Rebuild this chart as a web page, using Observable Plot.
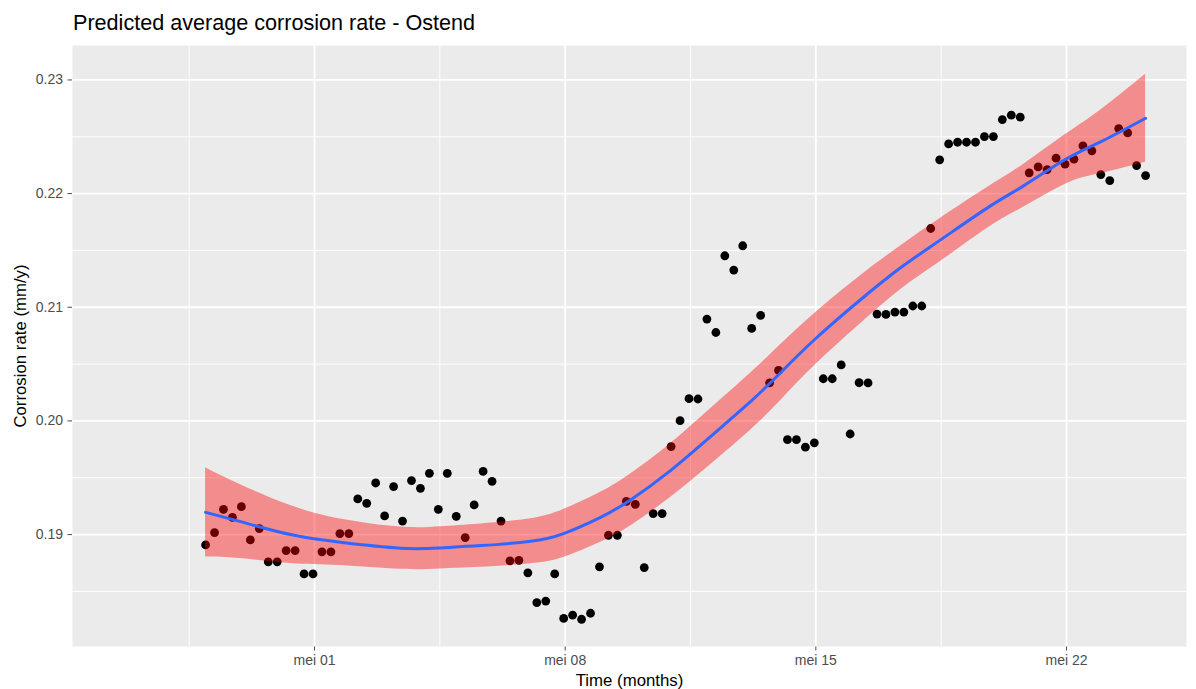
<!DOCTYPE html>
<html>
<head>
<meta charset="utf-8">
<script src="https://cdn.jsdelivr.net/npm/d3@7"></script>
<script src="https://cdn.jsdelivr.net/npm/@observablehq/plot@0.6"></script>
<style>
  html, body { margin: 0; padding: 0; background: white; }
  #title { height: 40px; box-sizing: border-box; padding-top: 12px; padding-left: 73px;
           font-family: "Liberation Sans", Arial, sans-serif; font-size: 21.6px; line-height: 22px; color: black; }
</style>
</head>
<body>
<div id="title">Predicted average corrosion rate - Ostend</div>
<div id="chart"></div>
<script>
// Observations: 6-hourly, starting 27 April 23:00
const obsStart = "2021-04-27T23:00:00Z";
const obsStepHours = 6;
const obsRate = [
  0.18909, 0.19018, 0.19222, 0.19152, 0.19246, 0.18953, 0.19053, 0.18760, 0.18760, 0.18859,
  0.18859, 0.18654, 0.18654, 0.18848, 0.18848, 0.19009, 0.19009, 0.19314, 0.19275, 0.19454,
  0.19164, 0.19422, 0.19119, 0.19475, 0.19407, 0.19539, 0.19222, 0.19539, 0.19161, 0.18974,
  0.19261, 0.19556, 0.19469, 0.19119, 0.18769, 0.18774, 0.18664, 0.18402, 0.18415, 0.18654,
  0.18262, 0.18291, 0.18255, 0.18308, 0.18716, 0.18994, 0.18994, 0.19293, 0.19266, 0.18710,
  0.19185, 0.19185, 0.19774, 0.20002, 0.20196, 0.20193, 0.20896, 0.20778, 0.21453, 0.21327,
  0.21541, 0.20814, 0.20928, 0.20334, 0.20444, 0.19835, 0.19835, 0.19769, 0.19807, 0.20371,
  0.20371, 0.20493, 0.19885, 0.20336, 0.20334, 0.20940, 0.20937, 0.20958, 0.20958, 0.21011,
  0.21011, 0.21693, 0.22297, 0.22437, 0.22452, 0.22452, 0.22452, 0.22502, 0.22502, 0.22651,
  0.22690, 0.22672, 0.22182, 0.22235, 0.22211, 0.22312, 0.22259, 0.22303, 0.22420, 0.22376,
  0.22167, 0.22115, 0.22572, 0.22534, 0.22247, 0.22159
];

// Smoothed fit (loess) with confidence band; positions in days relative to 1 May 00:00
const fitDay = [-3.042, -2.066, -0.670, 0.726, 2.402, 3.519, 4.636, 6.032, 6.953, 7.987, 8.824, 9.941,
  11.058, 12.175, 13.013, 13.990, 15.247, 16.364, 17.481, 18.877, 19.799, 21.000, 21.949, 23.208];
const fitRate = [0.19196, 0.19114, 0.19000, 0.18932, 0.18880, 0.18883, 0.18903, 0.18941, 0.19009, 0.19152,
  0.19305, 0.19563, 0.19862, 0.20169, 0.20424, 0.20723, 0.21066, 0.21347, 0.21593, 0.21892,
  0.22068, 0.22306, 0.22455, 0.22663];
const fitLower = [0.18803, 0.18789, 0.18745, 0.18727, 0.18694, 0.18698, 0.18712, 0.18743, 0.18798, 0.18932,
  0.19076, 0.19326, 0.19615, 0.19919, 0.20178, 0.20494, 0.20855, 0.21154, 0.21402, 0.21712,
  0.21879, 0.22086, 0.22176, 0.22276];
const fitUpper = [0.19589, 0.19439, 0.19255, 0.19137, 0.19066, 0.19069, 0.19094, 0.19139, 0.19220, 0.19372,
  0.19534, 0.19800, 0.20108, 0.20420, 0.20670, 0.20952, 0.21277, 0.21540, 0.21784, 0.22072,
  0.22257, 0.22526, 0.22734, 0.23050];

// Axis ticks
const xMajorTicks = ["2021-05-01", "2021-05-08", "2021-05-15", "2021-05-22"];
const xMinorTicks = ["2021-04-27T12:00:00Z", "2021-05-04T12:00:00Z", "2021-05-11T12:00:00Z", "2021-05-18T12:00:00Z"];
const yMajorTicks = [0.19, 0.20, 0.21, 0.22, 0.23];
const yMinorTicks = [0.185, 0.195, 0.205, 0.215, 0.225];
const monthLabel = "mei";

const refDay = Date.UTC(2021, 4, 1);
const dayMs = 864e5;
const t0 = new Date(obsStart).getTime();
const obs = obsRate.map((v, i) => ({time: new Date(t0 + i * obsStepHours * 3600e3), rate: v}));
const fit = fitDay.map((d, i) => ({time: new Date(refDay + d * dayMs), fit: fitRate[i], lo: fitLower[i], hi: fitUpper[i]}));
const xMaj = xMajorTicks.map(s => new Date(s));
const xMin = xMinorTicks.map(s => new Date(s));

const font = "'Liberation Sans', Arial, sans-serif";
const chart = Plot.plot({
  width: 1196,
  height: 649,
  marginTop: 5,
  marginBottom: 43,
  marginLeft: 72,
  marginRight: 10,
  style: {fontFamily: font, fontSize: "14px", color: "#4D4D4D", background: "white"},
  x: {type: "utc", domain: [new Date(refDay - 6.758 * dayMs), new Date(refDay + 24.351 * dayMs)],
      ticks: xMaj, tickFormat: d => monthLabel + " " + d3.utcFormat("%d")(d),
      tickSize: 4.5, tickPadding: 4, label: null},
  y: {domain: [0.180154, 0.23303], ticks: yMajorTicks, tickFormat: d3.format(".2f"),
      tickSize: 4.5, tickPadding: 5, label: null},
  marks: [
    Plot.frame({fill: "#EBEBEB", stroke: "none"}),
    Plot.ruleY(yMinorTicks, {stroke: "white", strokeWidth: 0.9}),
    Plot.ruleX(xMin, {stroke: "white", strokeWidth: 0.9}),
    Plot.ruleY(yMajorTicks, {stroke: "white", strokeWidth: 1.8}),
    Plot.ruleX(xMaj, {stroke: "white", strokeWidth: 1.8}),
    Plot.dot(obs, {x: "time", y: "rate", r: 4.4, fill: "black", stroke: "none"}),
    Plot.areaY(fit, {x: "time", y1: "lo", y2: "hi", fill: "red", fillOpacity: 0.4, curve: "natural"}),
    Plot.line(fit, {x: "time", y: "fit", stroke: "#3366FF", strokeWidth: 3, curve: "natural"}),
    Plot.text(["Time (months)"], {frameAnchor: "bottom", dy: 34, lineAnchor: "middle", textAnchor: "middle", fontSize: 16.8, fill: "black"}),
    Plot.text(["Corrosion rate (mm/y)"], {frameAnchor: "left", dx: -52, rotate: -90, textAnchor: "middle", lineAnchor: "middle", fontSize: 16.8, fill: "black"})
  ]
});
document.getElementById("chart").appendChild(chart);
</script>
</body>
</html>
